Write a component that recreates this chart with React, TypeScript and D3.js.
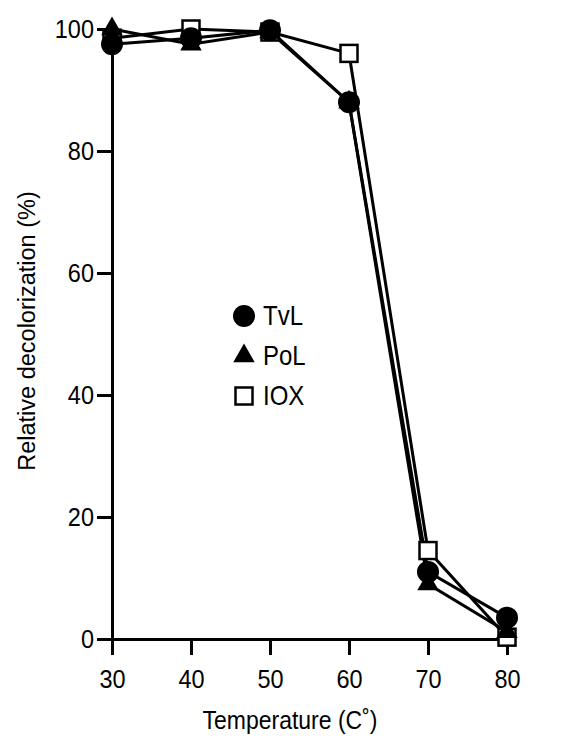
import React, { useEffect, useRef } from 'react';
import * as d3 from 'd3';

const temperatures = [30, 40, 50, 60, 70, 80];
const tvl = [97.5, 98.5, 99.8, 88, 11, 3.5];
const pol = [100, 97.5, 99.5, 88, 9, 1.2];
const iox = [98.5, 100, 99.5, 96, 14.5, 0.3];
const yTicks = [0, 20, 40, 60, 80, 100];

const series = [
  { name: 'IOX', values: iox, shape: 'square' },
  { name: 'PoL', values: pol, shape: 'triangle' },
  { name: 'TvL', values: tvl, shape: 'circle' },
];
const legendOrder = ['TvL', 'PoL', 'IOX'];

const FONT = '"Liberation Sans", Arial, Helvetica, sans-serif';

// the original lettering is a little taller than Liberation Sans
const stretch = sel => sel
  .style('transform-box', 'fill-box')
  .style('transform-origin', 'center')
  .style('transform', 'scale(1, 1.12)');

const App = () => {
  const svgRef = useRef<SVGSVGElement | null>(null);
  const width = 579, height = 746;

  useEffect(() => {
    const margin = { top: 29, right: 72, bottom: 107, left: 112 };
    const chartWidth = width - margin.left - margin.right;
    const chartHeight = height - margin.top - margin.bottom;

    const root = d3.select(svgRef.current);
    root.selectAll('*').remove();
    root.append('rect').attr('width', width).attr('height', height).attr('fill', 'white');

    const svg = root.append('g').attr('transform', `translate(${margin.left},${margin.top})`);

    const x = d3.scaleLinear().domain([30, 80]).range([0, chartWidth]);
    const y = d3.scaleLinear().domain([0, 100]).range([chartHeight, 0]);

    // Axes
    const xAxis = svg.append('g')
      .attr('transform', `translate(0,${chartHeight})`)
      .call(d3.axisBottom(x).tickValues(temperatures).tickSize(16).tickSizeOuter(0).tickPadding(15));
    const yAxis = svg.append('g')
      .call(d3.axisLeft(y).tickValues(yTicks).tickSize(15).tickSizeOuter(0).tickPadding(3));

    [xAxis, yAxis].forEach(g => {
      g.selectAll('.domain').attr('stroke', 'black').attr('stroke-width', 3);
      g.selectAll('.tick line').attr('stroke', 'black').attr('stroke-width', 3);
      g.selectAll('text')
        .style('font-family', FONT)
        .style('font-size', '23.5px')
        .style('fill', 'black')
        .call(stretch);
    });

    // Lines
    const line = d3.line<number>()
      .x((d, i) => x(temperatures[i]))
      .y(d => y(d));

    series.forEach(s => {
      svg.append('path')
        .datum(s.values)
        .attr('fill', 'none')
        .attr('stroke', 'black')
        .attr('stroke-width', 3)
        .attr('d', line);
    });

    const drawMarker = (g, shape, cx, cy) => {
      if (shape === 'circle') {
        g.append('circle').attr('cx', cx).attr('cy', cy).attr('r', 11).attr('fill', 'black');
      } else if (shape === 'triangle') {
        g.append('path')
          .attr('d', d3.symbol(d3.symbolTriangle, 200)())
          .attr('transform', `translate(${cx},${cy})`)
          .attr('fill', 'black');
      } else {
        g.append('rect')
          .attr('x', cx - 8.5).attr('y', cy - 8.5)
          .attr('width', 17).attr('height', 17)
          .attr('fill', 'white').attr('stroke', 'black').attr('stroke-width', 2.5);
      }
    };

    series.forEach(s => {
      s.values.forEach((v, i) => drawMarker(svg, s.shape, x(temperatures[i]), y(v)));
    });

    // Legend
    const legend = root.append('g');
    legendOrder.forEach((name, i) => {
      const s = series.find(d => d.name === name);
      const cy = 316 + i * 40;
      drawMarker(legend, s.shape, 244, cy);
      legend.append('text')
        .attr('x', 263).attr('y', cy)
        .attr('dy', '0.35em')
        .style('font-family', FONT)
        .style('font-size', '24px')
        .text(name)
        .call(stretch);
    });

    // Axis titles
    root.append('text')
      .attr('x', 290).attr('y', 728)
      .attr('text-anchor', 'middle')
      .style('font-family', FONT)
      .style('font-size', '23px')
      .text('Temperature (C˚)')
      .call(stretch);

    root.append('text')
      .attr('transform', 'translate(35,331) rotate(-90)')
      .attr('text-anchor', 'middle')
      .style('font-family', FONT)
      .style('font-size', '23.5px')
      .text('Relative decolorization (%)');
  }, []);

  return (
    <svg ref={svgRef} width={width} height={height}
      style={{ position: 'absolute', left: 0, top: 0 }}></svg>
  );
};

export default App;
